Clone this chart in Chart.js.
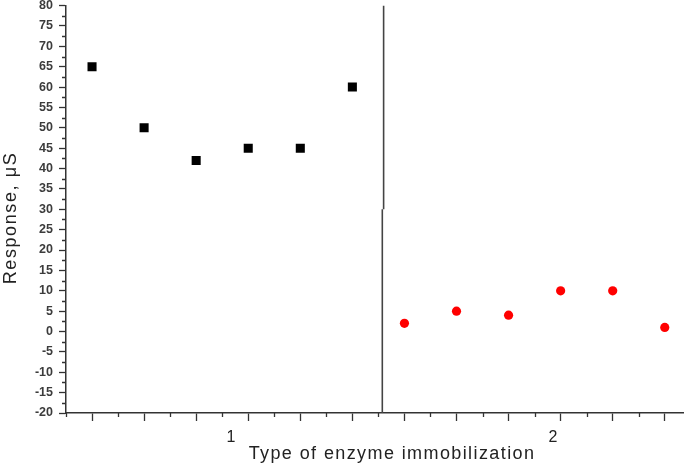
<!DOCTYPE html>
<html>
<head>
<meta charset="utf-8">
<script src="https://cdn.jsdelivr.net/npm/chart.js@4/dist/chart.umd.min.js"></script>
<style>
  html, body { margin: 0; padding: 0; background: #fff; }
  #wrap { width: 685px; height: 464px; }
</style>
</head>
<body>
<div id="wrap"><canvas id="chart" width="685" height="464"></canvas></div>
<script>
/* ── data ──────────────────────────────────────────────────────────── */
const GROUP_LABELS = ['1', '2'];
const GROUP_POS    = [3.67, 9.85];          // where the group captions sit on x

const BLACK_X = [1, 2, 3, 4, 5, 6];
const BLACK_Y = [65, 50, 42, 45, 45, 60];

const RED_X = [7, 8, 9, 10, 11, 12];
const RED_Y = [2, 5, 4, 10, 10, 1];

// separator between the two groups (slight kink half way down)
const DIVIDER_X = [6.6, 6.575];
const DIVIDER_Y = [80, 30, -20];

const X_MIN = 0.5, X_MAX = 12.35;
const Y_MIN = -20, Y_MAX = 80, Y_STEP = 5;
const X_MAJOR = [1, 2, 3, 4, 5, 6, 7, 8, 9, 10, 11, 12];

const Y_TITLE = 'Response, μS';
const X_TITLE = 'Type of enzyme immobilization';

const AXIS_COLOR = '#333';
const FONT = '"Liberation Sans", Arial, sans-serif';

const pts = (xs, ys) => xs.map((x, i) => ({ x, y: ys[i] }));

// minor ticks + axis captions
const extrasPlugin = {
  id: 'extras',
  afterDraw(chart) {
    const { ctx, chartArea, scales } = chart;
    const xs = scales.x, ys = scales.y;
    ctx.save();
    ctx.strokeStyle = AXIS_COLOR;
    ctx.lineWidth = 1.3;
    ctx.beginPath();
    for (let v = Y_MIN + Y_STEP / 2; v < Y_MAX; v += Y_STEP) {
      const py = Math.round(ys.getPixelForValue(v)) + 0.5;
      ctx.moveTo(chartArea.left - 4, py);
      ctx.lineTo(chartArea.left, py);
    }
    for (let v = X_MIN; v < X_MAX; v += 1) {
      const px = Math.round(xs.getPixelForValue(v)) + 0.5;
      ctx.moveTo(px, chartArea.bottom);
      ctx.lineTo(px, chartArea.bottom + 4);
    }
    ctx.stroke();

    // group captions
    ctx.fillStyle = '#222';
    ctx.font = '16px ' + FONT;
    ctx.textAlign = 'center';
    ctx.textBaseline = 'alphabetic';
    GROUP_LABELS.forEach((lab, i) => {
      ctx.fillText(lab, xs.getPixelForValue(GROUP_POS[i]), 442);
    });

    // x title
    ctx.font = '18px ' + FONT;
    ctx.letterSpacing = '1.4px';
    ctx.fillText(X_TITLE, 392, 459);

    // y title (the original is a bit stretched, hence the spacing)
    ctx.letterSpacing = '1.6px';
    ctx.translate(16, 218);
    ctx.rotate(-Math.PI / 2);
    ctx.fillText(Y_TITLE, 0, 0);
    ctx.letterSpacing = '0px';
    ctx.restore();
  },
};

new Chart(document.getElementById('chart'), {
  type: 'scatter',
  data: {
    datasets: [
      {
        data: pts(BLACK_X, BLACK_Y),
        pointStyle: 'rect',
        pointRadius: 6.4,
        backgroundColor: '#000',
        borderWidth: 0,
      },
      {
        data: pts(RED_X, RED_Y),
        pointStyle: 'circle',
        pointRadius: 4.6,
        backgroundColor: '#ff0000',
        borderWidth: 0,
      },
      {
        type: 'line',
        data: pts([DIVIDER_X[0], DIVIDER_X[0]], [DIVIDER_Y[0], DIVIDER_Y[1]]),
        borderColor: '#444',
        borderWidth: 1.6,
        pointRadius: 0,
        showLine: true,
      },
      {
        type: 'line',
        data: pts([DIVIDER_X[1], DIVIDER_X[1]], [DIVIDER_Y[1], DIVIDER_Y[2]]),
        borderColor: '#444',
        borderWidth: 1.6,
        pointRadius: 0,
        showLine: true,
      },
    ],
  },
  options: {
    responsive: false,
    animation: false,
    layout: { autoPadding: false, padding: { top: 5.6, right: 2, bottom: 0, left: 0 } },
    plugins: { legend: { display: false }, tooltip: { enabled: false } },
    scales: {
      x: {
        type: 'linear',
        min: X_MIN,
        max: X_MAX,
        afterBuildTicks: s => { s.ticks = X_MAJOR.map(v => ({ value: v })); },
        afterFit: s => { s.height = 51; s.paddingLeft = 0; s.paddingRight = 0; },
        ticks: { display: false },
        grid: { drawOnChartArea: false, drawTicks: true, tickLength: 8, tickColor: AXIS_COLOR, tickWidth: 1.3 },
        border: { display: true, color: AXIS_COLOR, width: 1.5 },
      },
      y: {
        min: Y_MIN,
        max: Y_MAX,
        afterFit: s => { s.width = 66; s.paddingTop = 0; s.paddingBottom = 0; },
        ticks: { stepSize: Y_STEP, color: '#3c3c3c', font: { family: FONT, size: 12.5, weight: 'bold' }, padding: 6 },
        grid: { drawOnChartArea: false, drawTicks: true, tickLength: 7, tickColor: AXIS_COLOR, tickWidth: 1.3 },
        border: { display: true, color: AXIS_COLOR, width: 1.5 },
      },
    },
  },
  plugins: [extrasPlugin],
});
</script>
</body>
</html>
